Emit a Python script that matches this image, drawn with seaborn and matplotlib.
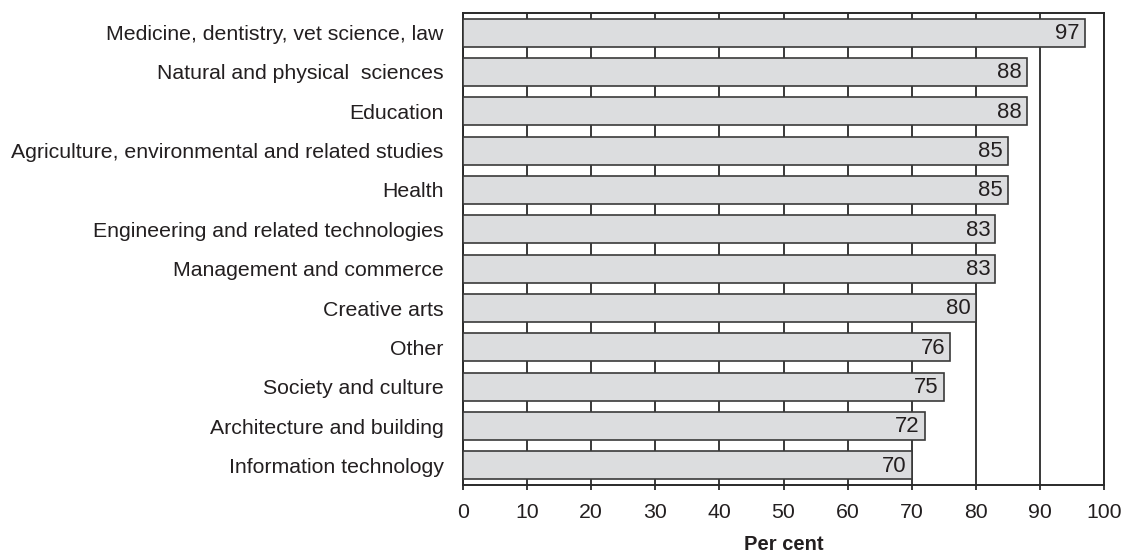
import matplotlib
matplotlib.use("Agg")
import matplotlib.pyplot as plt
import seaborn as sns
import pandas as pd

fields = [
    "Medicine, dentistry, vet science, law",
    "Natural and physical  sciences",
    "Education",
    "Agriculture, environmental and related studies",
    "Health",
    "Engineering and related technologies",
    "Management and commerce",
    "Creative arts",
    "Other",
    "Society and culture",
    "Architecture and building",
    "Information technology",
]
per_cent = [97, 88, 88, 85, 85, 83, 83, 80, 76, 75, 72, 70]
x_ticks = [0, 10, 20, 30, 40, 50, 60, 70, 80, 90, 100]

df = pd.DataFrame({"field": fields, "per_cent": per_cent})

sns.set_style("white")
plt.rcParams["font.family"] = ["Liberation Sans", "DejaVu Sans"]

ink = "#231f20"
fs = 15.3
fig = plt.figure(figsize=(11.31, 5.55), dpi=100)
ax = fig.add_axes([0.4094, 0.1261, 0.5667, 0.8505])

sns.barplot(data=df, x="per_cent", y="field", orient="h", ax=ax,
            color="#dcdddf", saturation=1, width=0.71,
            edgecolor="#3a3a3a", linewidth=1.2, zorder=3)

for patch, v in zip(ax.patches, per_cent):
    cy = patch.get_y() + patch.get_height() / 2
    ax.annotate(f"{v}", xy=(v, cy), xytext=(-3.5, -0.5), textcoords="offset points",
                ha="right", va="center", fontsize=fs + 0.6, color=ink, zorder=4)

ax.set_xlim(0, 100)
ax.set_ylim(len(fields) - 0.5, -0.5)
ax.set_xticks(x_ticks)
ax.set_xticklabels([str(t) for t in x_ticks])
ax.xaxis.grid(True, color="#2a2a2a", linewidth=1.3, zorder=0)
ax.yaxis.grid(False)
ax.set_axisbelow(True)

for s in ax.spines.values():
    s.set_visible(True)
    s.set_color("#2a2a2a")
    s.set_linewidth(1.4)

ax.tick_params(axis="x", direction="out", length=3.6, width=1.3, color="#2a2a2a",
               labelsize=fs, labelcolor=ink, pad=9, bottom=True)
ax.tick_params(axis="y", length=0, labelsize=fs, labelcolor=ink, pad=14)

ax.set_ylabel("")
ax.set_xlabel("Per cent", fontsize=fs - 0.8, fontweight="bold", color=ink, labelpad=10)

fig.savefig("out.png", dpi=100)
